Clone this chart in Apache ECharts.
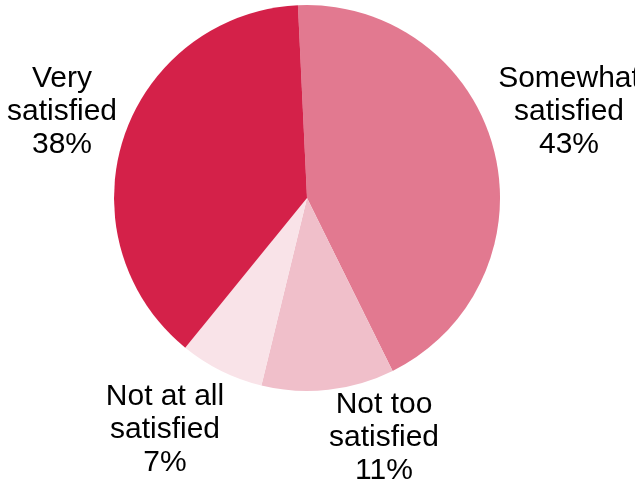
<!DOCTYPE html>
<html>
<head>
<meta charset="utf-8">
<script src="https://cdn.jsdelivr.net/npm/echarts@6/dist/echarts.min.js"></script>
<style>
  html, body { margin: 0; padding: 0; background: #fff; }
  #chart { width: 635px; height: 481px; }
</style>
</head>
<body>
<div id="chart"></div>
<script>
// Satisfaction shares, drawn clockwise from the top
const categories = ['Somewhat\nsatisfied', 'Not too\nsatisfied', 'Not at all\nsatisfied', 'Very\nsatisfied'];
const shares = [43, 11, 7, 38];
const sliceColors = ['#E27990', '#F0BFCA', '#F9E3E8', '#D42149'];
// Label block centres (pixels)
const labelCenters = [[569, 112], [384, 438], [165, 430], [62, 112]];

const chart = echarts.init(document.getElementById('chart'), null, { renderer: 'canvas' });

chart.setOption({
  animation: false,
  series: [{
    type: 'pie',
    center: [307, 198],
    radius: 193,
    startAngle: 92.7,
    clockwise: true,
    avoidLabelOverlap: false,
    data: categories.map((name, i) => ({
      name: name,
      value: shares[i],
      itemStyle: { color: sliceColors[i] }
    })),
    itemStyle: { borderWidth: 0 },
    label: {
      show: true,
      position: 'outside',
      formatter: '{b}\n{c}%',
      fontFamily: '"Liberation Sans", Arial, sans-serif',
      fontSize: 30,
      lineHeight: 33,
      color: '#000',
      align: 'center'
    },
    labelLine: { show: false },
    labelLayout: function (params) {
      const p = labelCenters[params.dataIndex];
      return { x: p[0], y: p[1], align: 'center', verticalAlign: 'middle' };
    },
    emphasis: { disabled: true }
  }]
});
</script>
</body>
</html>
